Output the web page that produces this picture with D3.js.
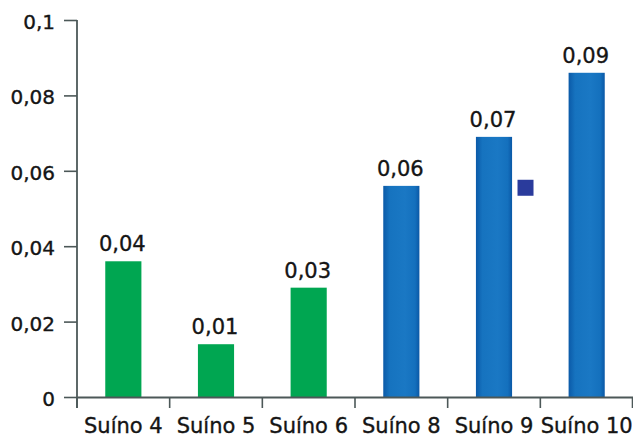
<!DOCTYPE html>
<html>
<head>
<meta charset="utf-8">
<script src="https://cdn.jsdelivr.net/npm/d3@7"></script>
<style>
  html, body { margin: 0; padding: 0; background: #ffffff; }
  svg { display: block; }
  text { font-family: "DejaVu Sans", Verdana, sans-serif; fill: #151515; stroke: #151515; stroke-width: 0.35px; }
</style>
</head>
<body>
<svg id="chart" width="633" height="438"></svg>
<script>
// Amostras e valores medidos
const categories = ["Suíno 4", "Suíno 5", "Suíno 6", "Suíno 8", "Suíno 9", "Suíno 10"];
const values = [0.036, 0.014, 0.029, 0.056, 0.069, 0.086];
const groups = ["A", "A", "A", "B", "B", "B"];
const yTicks = [0, 0.02, 0.04, 0.06, 0.08, 0.1];
const yTickLabels = ["0", "0,02", "0,04", "0,06", "0,08", "0,1"];
// Ponto isolado entre Suíno 9 e Suíno 10
const markerCategory = "Suíno 9";
const markerValue = 0.0555;

const W = 633, H = 438;
const margin = { top: 20, right: 0, bottom: 41, left: 77 };
const svg = d3.select("#chart");

const x = d3.scaleBand()
  .domain(categories)
  .range([margin.left, W - margin.right])
  .paddingInner(0.61)
  .paddingOuter(0.305);

const xBand = d3.scaleBand()
  .domain(categories)
  .range([margin.left, W - margin.right]);

const y = d3.scaleLinear()
  .domain([0, 0.1])
  .range([H - margin.bottom, margin.top]);

const fmt = v => d3.format(".2f")(v).replace(".", ",");

// Gradiente horizontal das barras azuis
const defs = svg.append("defs");
const grad = defs.append("linearGradient").attr("id", "blueBar")
  .attr("x1", "0").attr("x2", "1").attr("y1", "0").attr("y2", "0");
grad.append("stop").attr("offset", "0").attr("stop-color", "#0b5aa8");
grad.append("stop").attr("offset", "0.18").attr("stop-color", "#1673bf");
grad.append("stop").attr("offset", "0.6").attr("stop-color", "#1a78c4");
grad.append("stop").attr("offset", "0.88").attr("stop-color", "#1470bd");
grad.append("stop").attr("offset", "1").attr("stop-color", "#0a58a6");

const colorFor = g => g === "A" ? "#00a651" : "url(#blueBar)";

// Barras
svg.append("g").selectAll("rect")
  .data(categories)
  .join("rect")
  .attr("x", d => x(d))
  .attr("y", (d, i) => y(values[i]))
  .attr("width", x.bandwidth())
  .attr("height", (d, i) => y(0) - y(values[i]))
  .attr("fill", (d, i) => colorFor(groups[i]));

// Rótulos de valor
svg.append("g").selectAll("text")
  .data(categories)
  .join("text")
  .attr("x", d => x(d) + x.bandwidth() / 2 - 1)
  .attr("y", (d, i) => y(values[i]) - 10)
  .attr("text-anchor", "middle")
  .attr("font-size", 21)
  .text((d, i) => fmt(values[i]));

// Marcador quadrado
const mx = xBand(markerCategory) + xBand.bandwidth() * 0.84;
svg.append("rect")
  .attr("x", mx - 8)
  .attr("y", y(markerValue) - 8)
  .attr("width", 16)
  .attr("height", 16)
  .attr("fill", "#2a3b9c");

const axisColor = "#4c5858";

// Eixo Y
const yAxis = svg.append("g")
  .attr("transform", `translate(${margin.left},0)`)
  .call(d3.axisLeft(y).tickValues(yTicks)
    .tickFormat((d, i) => yTickLabels[i])
    .tickSize(13).tickPadding(9).tickSizeOuter(0));
yAxis.select(".domain").remove();
yAxis.selectAll("line").attr("stroke", axisColor).attr("stroke-width", 1.6);
yAxis.selectAll("text").attr("font-size", 20).attr("dy", "0.42em")
  .style("font-family", "'DejaVu Sans', Verdana, sans-serif").attr("fill", "#151515");
yAxis.append("line")
  .attr("x1", 0).attr("x2", 0)
  .attr("y1", margin.top).attr("y2", y(0) + 11)
  .attr("stroke", axisColor).attr("stroke-width", 1.8);

// Eixo X
const xAxis = svg.append("g")
  .attr("transform", `translate(0,${y(0)})`)
  .call(d3.axisBottom(xBand).tickSize(0).tickPadding(21).tickSizeOuter(0));
xAxis.select(".domain").attr("stroke", axisColor).attr("stroke-width", 1.8);
xAxis.selectAll("text").attr("font-size", 21)
  .style("font-family", "'DejaVu Sans', Verdana, sans-serif").attr("fill", "#151515");
// Divisões entre categorias
const bounds = categories.map(c => xBand(c)).concat([xBand.range()[1] - 0.5]);
xAxis.append("g").selectAll("line")
  .data(bounds)
  .join("line")
  .attr("x1", d => d).attr("x2", d => d)
  .attr("y1", 0).attr("y2", 11)
  .attr("stroke", axisColor).attr("stroke-width", 1.6);
</script>
</body>
</html>
